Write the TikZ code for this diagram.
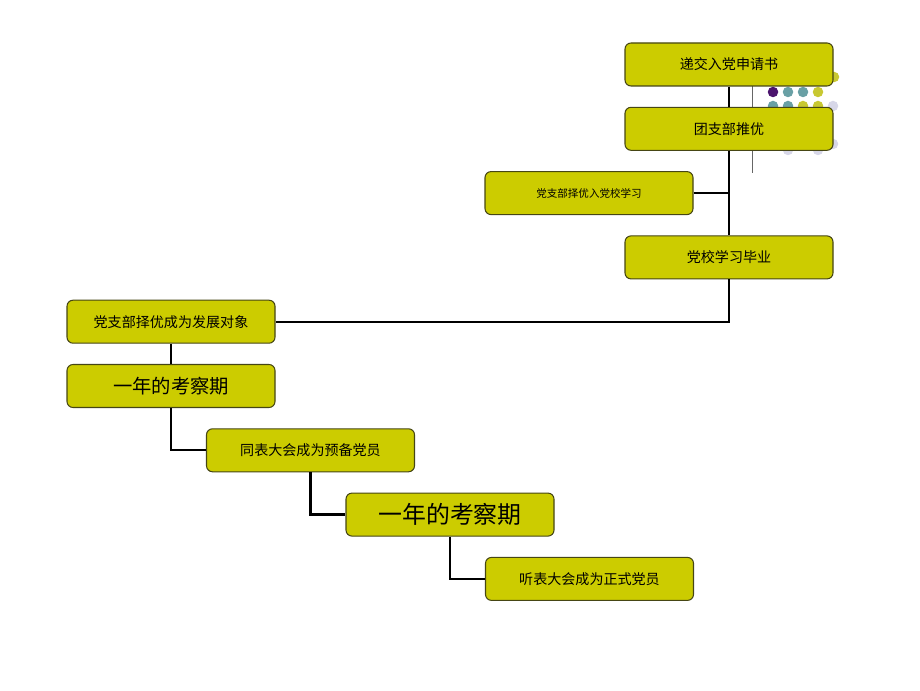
\documentclass[tikz,border=0pt]{standalone}
\usepackage{tikz}
\usepackage{xcolor}
\usepackage{fontspec}
\newfontfamily\cjk{Noto Sans CJK SC}
\usetikzlibrary{shapes.geometric, arrows, positioning, calc}
\definecolor{boxfill}{RGB}{204,204,0}
\definecolor{boxedge}{RGB}{70,70,20}
\definecolor{dotpurple}{RGB}{75,20,110}
\definecolor{dotteal}{RGB}{105,160,165}
\definecolor{dotyellow}{RGB}{200,200,50}
\definecolor{dotlilac}{RGB}{215,215,232}
\tikzstyle{stage} = [rectangle, rounded corners=0.12cm, minimum width=4.16cm, minimum height=0.86cm, text centered, draw=boxedge, line width=0.6pt, fill=boxfill, font=\cjk\fontsize{8pt}{9pt}\selectfont]
\tikzstyle{smalltext} = [font=\cjk\fontsize{6pt}{7pt}\selectfont]
\tikzstyle{bigtext} = [font=\cjk\fontsize{11pt}{12pt}\selectfont]
\tikzstyle{hugetext} = [font=\cjk\fontsize{13.6pt}{15pt}\selectfont]
\tikzstyle{link} = [line width=1.3pt, black]
\tikzstyle{dot} = [circle, inner sep=0pt, minimum size=0.21cm]

\begin{document}
\begin{tikzpicture}[node distance=1.286cm]
    \useasboundingbox (0,0) rectangle (18.4,13.8);

    % slide decoration behind the boxes
    \draw [gray!80!black, line width=0.5pt] (15.04,12.6) -- (15.04,10.34);
    \node [dot, fill=dotyellow] at (16.68,12.26) {};
    \node [dot, fill=dotpurple] at (15.46,11.96) {};
    \node [dot, fill=dotteal] at (15.76,11.96) {};
    \node [dot, fill=dotteal] at (16.06,11.96) {};
    \node [dot, fill=dotyellow] at (16.36,11.96) {};
    \node [dot, fill=dotteal] at (15.46,11.68) {};
    \node [dot, fill=dotteal] at (15.76,11.68) {};
    \node [dot, fill=dotyellow] at (16.06,11.68) {};
    \node [dot, fill=dotyellow] at (16.36,11.68) {};
    \node [dot, fill=dotlilac] at (16.66,11.68) {};
    \node [dot, fill=dotlilac] at (16.66,10.92) {};
    \node [dot, fill=dotlilac] at (15.76,10.80) {};
    \node [dot, fill=dotlilac] at (16.36,10.80) {};

    % upper chain
    \node (apply) [stage] at (14.58,12.51) {递交入党申请书};
    \node (league) [stage, below of=apply] {团支部推优};
    \node (school) [stage, smalltext, below of=league, xshift=-2.8cm] {党支部择优入党校学习};
    \node (graduate) [stage, below of=school, xshift=2.8cm] {党校学习毕业};

    % lower chain
    \node (target) [stage, below of=graduate, xshift=-11.16cm] {党支部择优成为发展对象};
    \node (probeA) [stage, bigtext, below of=target] {一年的考察期};
    \node (prep) [stage, below of=probeA, xshift=2.79cm] {同表大会成为预备党员};
    \node (probeB) [stage, hugetext, below of=prep, xshift=2.79cm] {一年的考察期};
    \node (formal) [stage, below of=probeB, xshift=2.79cm] {听表大会成为正式党员};

    \draw [link] (apply) -- (league);
    \draw [link] (league) -- (graduate);
    \draw [link] (school.east) -- (school.east -| league.south);
    \draw [link] (graduate.south) |- (target.east);
    \draw [link] (target) -- (probeA);
    \draw [link] (probeA.south) |- (prep.west);
    \draw [link] (prep.south) |- (probeB.west);
    \draw [link] (probeB.south) |- (formal.west);
\end{tikzpicture}
\end{document}
